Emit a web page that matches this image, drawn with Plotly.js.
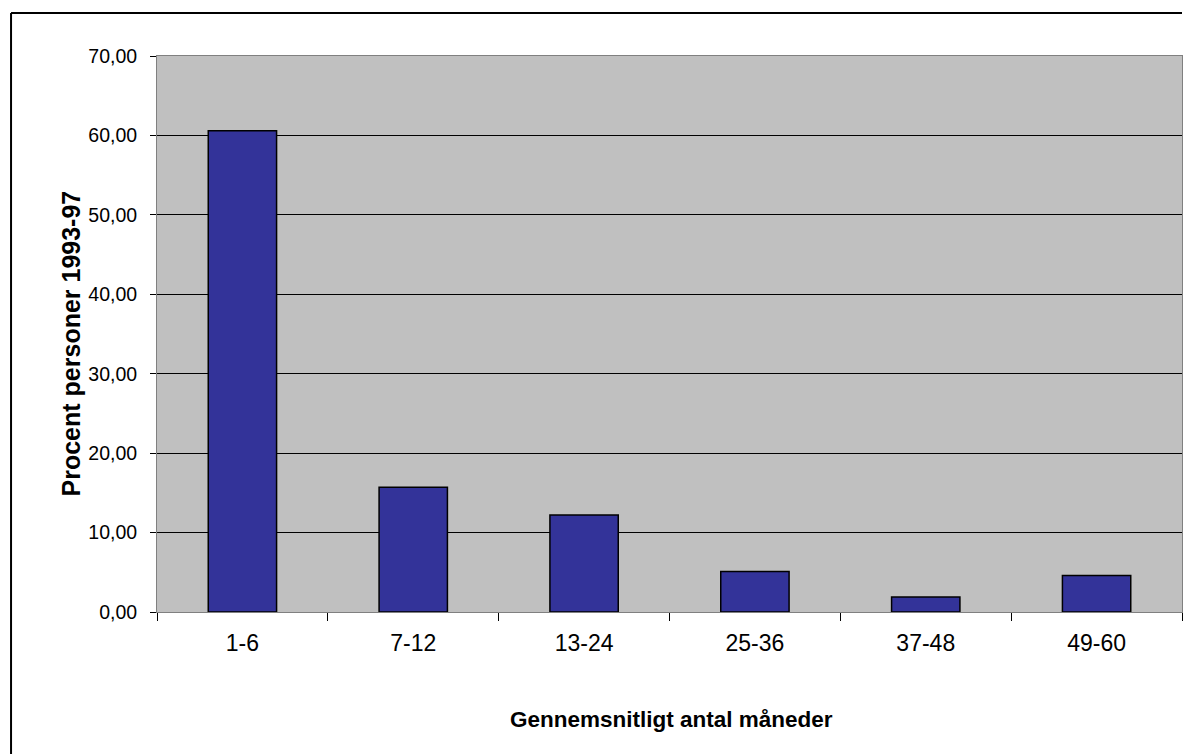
<!DOCTYPE html>
<html>
<head>
<meta charset="utf-8">
<script src="https://cdn.plot.ly/plotly-3.0.1.min.js"></script>
<style>html,body{margin:0;padding:0;background:#fff;}#chart{width:1187px;height:754px;}</style>
</head>
<body>
<div id="chart"></div>
<script>
const categories = ["1-6", "7-12", "13-24", "25-36", "37-48", "49-60"];
const percentValues = [60.6, 15.7, 12.2, 5.1, 1.9, 4.6];
const yTickValues = [0, 10, 20, 30, 40, 50, 60, 70];
const xTitle = "Gennemsnitligt antal måneder";
const yTitle = "Procent personer 1993-97";

const trace = {
  type: "bar",
  x: categories,
  y: percentValues,
  marker: { color: "#333399", line: { color: "#000000", width: 1.5 } },
  hoverinfo: "skip"
};

const layout = {
  width: 1187,
  height: 754,
  margin: { l: 157, r: 5, t: 56, b: 142 },
  paper_bgcolor: "#ffffff",
  plot_bgcolor: "#c0c0c0",
  separators: ",.",
  bargap: 0.6,
  showlegend: false,
  font: { family: "Liberation Sans, Arial, sans-serif", color: "#000000", size: 16 },
  xaxis: {
    type: "category",
    tickson: "boundaries",
    ticks: "outside",
    ticklen: 8,
    tickcolor: "#000000",
    ticklabelstandoff: 10,
    showline: true,
    linecolor: "#808080",
    linewidth: 1,
    mirror: true,
    showgrid: false,
    tickfont: { size: 23 }
  },
  yaxis: {
    range: [0, 70],
    tickvals: yTickValues,
    tickformat: ".2f",
    ticks: "outside",
    ticklen: 6,
    tickcolor: "#000000",
    ticklabelstandoff: 9,
    showline: true,
    linecolor: "#808080",
    linewidth: 1,
    mirror: true,
    showgrid: true,
    gridcolor: "#000000",
    gridwidth: 1,
    zeroline: false,
    tickfont: { size: 19.5 }
  },
  annotations: [
    { text: "<b>" + xTitle + "</b>", xref: "paper", yref: "paper", x: 0.5015, y: -0.194, xanchor: "center", yanchor: "middle", showarrow: false, font: { size: 22.5 } },
    { text: "<b>" + yTitle + "</b>", xref: "paper", yref: "paper", x: -0.0839, y: 0.483, xanchor: "center", yanchor: "middle", textangle: -90, showarrow: false, font: { size: 25 } }
  ],
  shapes: [
    { type: "line", xref: "paper", yref: "paper", x0: -0.1424, x1: 1.0, y0: 1.0773, y1: 1.0773, line: { color: "#000000", width: 2 } },
    { type: "line", xref: "paper", yref: "paper", x0: -0.1424, x1: -0.1424, y0: 1.0773, y1: -0.3, line: { color: "#000000", width: 2 } }
  ]
};

Plotly.newPlot("chart", [trace], layout, { displayModeBar: false, staticPlot: true });
</script>
</body>
</html>
